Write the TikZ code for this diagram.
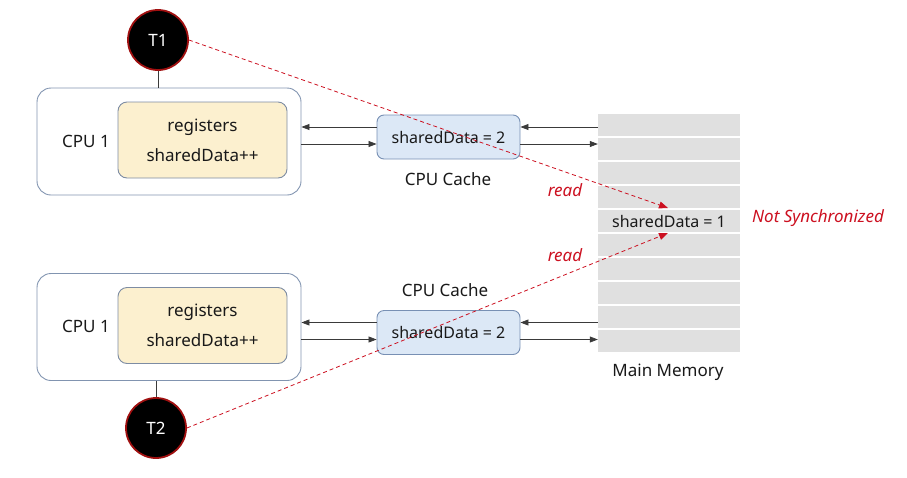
\documentclass[tikz,border=0pt]{standalone}
\usepackage{fontspec}
\setmainfont{Noto Sans}
\usetikzlibrary{arrows.meta}
\definecolor{cpuline}{HTML}{8194B0}
\definecolor{regline}{HTML}{7D8CA3}
\definecolor{regfill}{HTML}{FCF0CF}
\definecolor{cacheline}{HTML}{7890B4}
\definecolor{cachefill}{HTML}{DCE8F6}
\definecolor{memgray}{HTML}{E0E0E0}
\definecolor{linegray}{HTML}{3A3A3A}
\definecolor{readred}{HTML}{CC1020}
\definecolor{threadred}{HTML}{A01010}
\begin{document}
\begin{tikzpicture}[x=1pt, y=-1pt,
    every node/.style={font=\fontsize{17}{20}\selectfont, text=black!90},
    cpubox/.style={draw=cpuline, line width=0.9pt, rounded corners=14pt, minimum width=264pt, minimum height=107pt},
    regbox/.style={draw=regline, line width=0.9pt, fill=regfill, rounded corners=9pt, minimum width=169pt, minimum height=76pt, align=center, font=\fontsize{17}{30}\selectfont},
    cachebox/.style={draw=cacheline, line width=0.9pt, fill=cachefill, rounded corners=7pt, minimum width=143pt, minimum height=44pt, font=\fontsize{16}{20}\selectfont},
    thread/.style={circle, fill=black, draw=threadred, line width=1.8pt, minimum size=60pt, inner sep=0pt, text=white, font=\fontsize{17}{20}\selectfont\bfseries},
    memrow/.style={fill=memgray, minimum width=142pt, minimum height=22.5pt, inner sep=0pt},
    link/.style={draw=linegray, line width=0.7pt, -{Triangle[length=8pt,width=6pt]}},
    readline/.style={draw=readred, dashed, dash pattern=on 4pt off 3pt, line width=0.8pt, -{Triangle[length=9pt,width=7pt]}},
    redtext/.style={text=readred, font=\fontsize{17}{20}\selectfont\itshape}]
  \useasboundingbox (0,0) rectangle (907,477);

  % main memory
  \foreach \i in {0,...,9}
    \node [memrow] (m\i) at (669, {125+24*\i}) {};
  \node [font=\fontsize{16}{20}\selectfont] at (m4) {sharedData = 1};
  \node at (668, 372) {Main Memory};
  \node [redtext] at (818, 218) {Not Synchronized};

  % upper cpu
  \node [cpubox] (cpu1) at (169, 141.5) {};
  \node [regbox] (reg1) at (202.5, 140) {registers\\sharedData++};
  \node at (86, 141) {CPU 1};
  \node [cachebox] (c1) at (448.5, 137) {sharedData = 2};
  \node at (448, 179) {CPU Cache};
  \node [thread] (t1) at (158, 40) {T1};
  \draw [linegray, line width=0.7pt] (t1) -- (t1 |- cpu1.north);

  % lower cpu
  \node [cpubox] (cpu2) at (169, 327) {};
  \node [regbox] (reg2) at (202.5, 325.5) {registers\\sharedData++};
  \node at (86, 326) {CPU 1};
  \node [cachebox] (c2) at (448.5, 332.5) {sharedData = 2};
  \node at (445, 290) {CPU Cache};
  \node [thread] (t2) at (156, 428) {T2};
  \draw [linegray, line width=0.7pt] (t2) -- (t2 |- cpu2.south);

  % cache links
  \foreach \c/\p in {c1/cpu1, c2/cpu2} {
    \draw [link] ([yshift=10pt]\c.west) -- ([yshift=10pt]\c.west -| \p.east);
    \draw [link] ([yshift=-7pt]\c.west -| \p.east) -- ([yshift=-7pt]\c.west);
    \draw [link] ([yshift=10pt]\c.east -| m0.west) -- ([yshift=10pt]\c.east);
    \draw [link] ([yshift=-7pt]\c.east) -- ([yshift=-7pt]\c.east -| m0.west);
  }

  % reads
  \coordinate (r1) at (668, 208);
  \coordinate (r2) at (668, 233);
  \draw [readline] (t1.east) -- (r1);
  \draw [readline] (t2.east) -- (r2);
  \node [redtext] at (565, 190) {read};
  \node [redtext] at (565, 255) {read};
\end{tikzpicture}
\end{document}
